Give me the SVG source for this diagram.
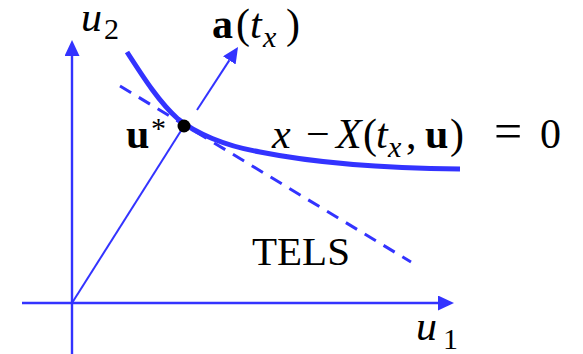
<svg xmlns="http://www.w3.org/2000/svg" width="583" height="354" viewBox="0 0 583 354">
<style>
.ax{stroke:#3333ff;stroke-width:2.4;fill:none}
.ray{stroke:#3333ff;stroke-width:2;fill:none}
.tels{stroke:#3333ff;stroke-width:3;stroke-dasharray:13 9;fill:none}
.crv{stroke:#3333ff;stroke-width:5;fill:none;stroke-linecap:butt}
text{font-family:"Liberation Serif","Times New Roman",serif;fill:#000}
.m{font-size:42px}
.s{font-size:30px}
.i{font-style:italic}
.b{font-weight:bold}
</style>
<defs>
<marker id="ah" markerUnits="userSpaceOnUse" markerWidth="16" markerHeight="15" refX="0" refY="7.5" orient="auto">
<path d="M0,0 L16,7.5 L0,15 Z" fill="#3333ff"/>
</marker>
</defs>
<g id="connectors">
<line class="ax" x1="22" y1="303" x2="438" y2="303" marker-end="url(#ah)"/>
<line class="ax" x1="72" y1="354" x2="72" y2="56" marker-end="url(#ah)"/>
<line class="ray" x1="72" y1="303" x2="184" y2="126"/>
<line class="ray" x1="197" y1="110" x2="229.3" y2="60.4" marker-end="url(#ah)"/>
<line class="tels" x1="120" y1="86" x2="411" y2="262"/>
<path class="crv" d="M127,52 C145,80 160,103 178,119 C195,133 225,146 260,152 C300,160 360,168 460,169"/>
</g>
<g id="point">
<circle cx="184" cy="126" r="6.5" fill="#000"/>
</g>
<g id="labels">
<text class="m"><tspan class="i" x="81" y="31">u</tspan><tspan class="s" x="104" y="39">2</tspan></text>
<text class="m"><tspan class="i" x="416" y="340">u</tspan><tspan class="s" x="443" y="349">1</tspan></text>
<text class="m"><tspan class="b" x="212" y="38">a</tspan><tspan x="236" y="38">(</tspan><tspan class="i" x="250" y="38">t</tspan><tspan class="i s" x="263" y="47">x</tspan><tspan x="286" y="38">)</tspan></text>
<text class="m"><tspan class="b" x="126" y="148">u</tspan><tspan class="s" x="151" y="138">*</tspan></text>
<text class="m"><tspan class="i" x="272" y="148">x</tspan><tspan x="306" y="148">−</tspan><tspan class="i" x="336" y="148">X</tspan><tspan x="363" y="148">(</tspan><tspan class="i" x="376" y="148">t</tspan><tspan class="i s" x="388" y="157">x</tspan><tspan x="406" y="148">,</tspan><tspan class="b" x="425" y="148">u</tspan><tspan x="450" y="148">)</tspan><tspan x="494" y="148" font-size="50">=</tspan><tspan x="540" y="148">0</tspan></text>
<text x="252" y="265" font-size="41">TELS</text>
</g>
</svg>
